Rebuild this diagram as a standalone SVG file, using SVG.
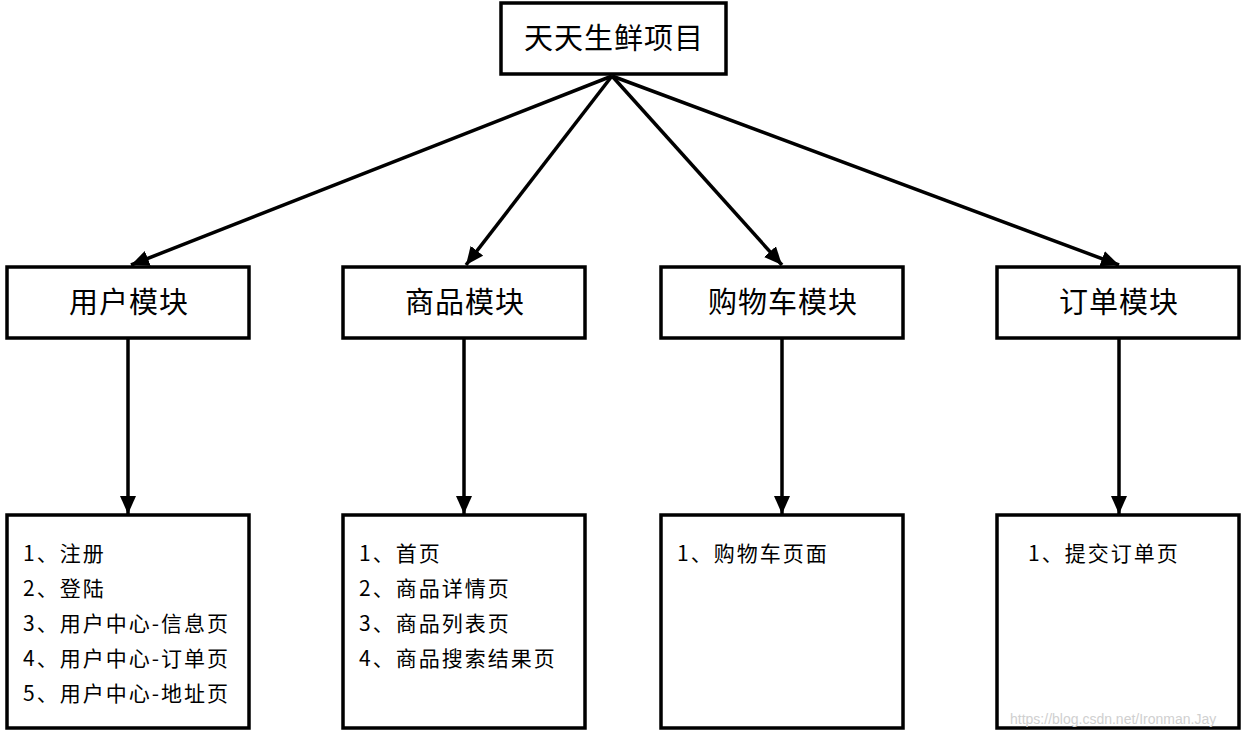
<svg xmlns="http://www.w3.org/2000/svg" width="1248" height="738" viewBox="0 0 1248 738">
<style>
.box{fill:#fff;stroke:#000;stroke-width:3.5}
.t{font-family:"Noto Sans CJK SC","Noto Sans",sans-serif;fill:#000}
.h{font-size:29px;letter-spacing:1px;text-anchor:middle}
.l{font-size:21px;letter-spacing:2px}
.c{stroke:#000;stroke-width:3.5;fill:none;marker-end:url(#ah)}
</style>
<defs>
<marker id="ah" markerUnits="userSpaceOnUse" markerWidth="20" markerHeight="18" refX="18" refY="8" orient="auto">
<path d="M0,0 L18,8 L0,16 Z" fill="#000"/>
</marker>
</defs>
<rect width="1248" height="738" fill="#fff"/>
<g id="connectors">
<line class="c" x1="612" y1="76" x2="131" y2="265"/>
<line class="c" x1="612" y1="76" x2="466" y2="265"/>
<line class="c" x1="612" y1="76" x2="782" y2="265"/>
<line class="c" x1="612" y1="76" x2="1119" y2="265"/>
<line class="c" x1="128" y1="339" x2="128" y2="514"/>
<line class="c" x1="464" y1="339" x2="464" y2="514"/>
<line class="c" x1="782" y1="339" x2="782" y2="514"/>
<line class="c" x1="1119" y1="339" x2="1119" y2="514"/>
</g>
<g id="root">
<rect class="box" x="501" y="3" width="225" height="71"/>
<text class="t h" x="614" y="49">天天生鲜项目</text>
</g>
<g id="user">
<rect class="box" x="7" y="267" width="242" height="71"/>
<text class="t h" x="129" y="313">用户模块</text>
</g>
<g id="goods">
<rect class="box" x="343" y="267" width="242" height="71"/>
<text class="t h" x="465" y="313">商品模块</text>
</g>
<g id="cart">
<rect class="box" x="661" y="267" width="242" height="71"/>
<text class="t h" x="783" y="313">购物车模块</text>
</g>
<g id="order">
<rect class="box" x="997" y="267" width="242" height="71"/>
<text class="t h" x="1119" y="313">订单模块</text>
</g>
<g id="user-pages">
<rect class="box" x="7" y="515" width="242" height="213"/>
<text class="t l" x="23" y="561">1、注册</text>
<text class="t l" x="23" y="596">2、登陆</text>
<text class="t l" x="23" y="631">3、用户中心-信息页</text>
<text class="t l" x="23" y="666">4、用户中心-订单页</text>
<text class="t l" x="23" y="701">5、用户中心-地址页</text>
</g>
<g id="goods-pages">
<rect class="box" x="343" y="515" width="242" height="213"/>
<text class="t l" x="359" y="561">1、首页</text>
<text class="t l" x="359" y="596">2、商品详情页</text>
<text class="t l" x="359" y="631">3、商品列表页</text>
<text class="t l" x="359" y="666">4、商品搜索结果页</text>
</g>
<g id="cart-pages">
<rect class="box" x="661" y="515" width="242" height="213"/>
<text class="t l" x="677" y="561">1、购物车页面</text>
</g>
<g id="order-pages">
<rect class="box" x="997" y="515" width="242" height="213"/>
<text class="t l" x="1028" y="561">1、提交订单页</text>
</g>
<text x="1010" y="724" font-family="Liberation Sans,Arial,sans-serif" font-size="14" fill="#d0d0d0">https://blog.csdn.net/Ironman.Jay</text>
</svg>
